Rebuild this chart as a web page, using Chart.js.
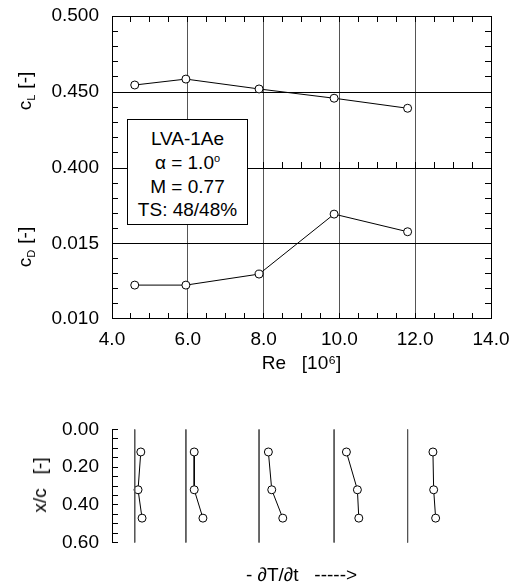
<!DOCTYPE html>
<html>
<head>
<meta charset="utf-8">
<script src="https://cdn.jsdelivr.net/npm/chart.js@4.4.1/dist/chart.umd.min.js"></script>
<style>
  body { margin: 0; background: #fff; }
  #wrap { position: relative; width: 516px; height: 587px; font-family: "Liberation Sans", Arial, sans-serif; color: #000; }
  canvas { position: absolute; left: 0; }
  .ytitle { position: absolute; font-size: 19px; white-space: nowrap; line-height: 22px; transform: translate(-50%, -50%) rotate(-90deg); z-index: 4; }
  .ytitle sub { font-size: 11px; vertical-align: -4px; line-height: 0; }
  #box { position: absolute; left: 127px; top: 119px; width: 121px; height: 106px; box-sizing: border-box; border: 1px solid #000; background: #fff;
         text-align: center; font-size: 19px; line-height: 23.8px; padding-top: 7px; z-index: 5; }
  #box sup { font-size: 11px; line-height: 0; vertical-align: 7px; }
</style>
</head>
<body>
<div id="wrap">
  <canvas id="c1" width="516" height="180" style="top:0px"></canvas>
  <canvas id="c2" width="516" height="230" style="top:150px"></canvas>
  <canvas id="c3" width="516" height="172" style="top:415px"></canvas>
  <div class="ytitle" style="left:25px; top:91px">c<sub>L</sub><span style="margin-left:6px">[-]</span></div>
  <div class="ytitle" style="left:25px; top:247px">c<sub>D</sub><span style="margin-left:6px">[-]</span></div>
  <div class="ytitle" style="left:40px; top:485px">x/c<span style="margin-left:14px">[-]</span></div>
  <div id="box">LVA-1Ae<br>&alpha; = 1.0<sup>o</sup><br>M = 0.77<br>TS: 48/48%</div>
</div>
<script>
// Reynolds number [10^6] of each run
const re = [4.6, 5.95, 7.88, 9.86, 11.8];
const cL = [0.4546, 0.4585, 0.4520, 0.4459, 0.4393];
const cD = [0.01223, 0.01223, 0.01296, 0.01694, 0.01577];

// transition sensors x/c and -dT/dt (offset from each run's baseline, Re units)
const xc = [0.12, 0.32, 0.47];
const dTdt1 = [0.16, 0.087, 0.193];
const dTdt2 = [0.219, 0.219, 0.449];
const dTdt3 = [0.246, 0.335, 0.626];
const dTdt4 = [0.325, 0.615, 0.652];
const dTdt5 = [0.668, 0.687, 0.739];
const dTdt = [dTdt1, dTdt2, dTdt3, dTdt4, dTdt5];

// tick labels
const reTicks = [4, 6, 8, 10, 12, 14];
const cLTicks = [0.400, 0.450, 0.500];
const cDTicks = [0.010, 0.015];
const xcTicks = [0.00, 0.20, 0.40, 0.60];

Chart.defaults.font.family = '"Liberation Sans", Arial, sans-serif';
Chart.defaults.font.size = 19;
Chart.defaults.color = '#000';

function steps(a, b, s) {
  const out = [];
  const n = Math.round((b - a) / s);
  for (let i = 0; i <= n; i++) out.push(+(a + i * s).toFixed(6));
  return out;
}
function has(list, v) { return list.some(t => Math.abs(t - v) < 1e-9); }
function fixTicks(vals) { return scale => { scale.ticks = vals.map(v => ({ value: v })); }; }
function noPad(s) { s.paddingTop = 0; s.paddingBottom = 0; s.paddingLeft = 0; s.paddingRight = 0; }
const clear = 'rgba(0,0,0,0)';

// small tick marks pointing into the plot area, filled as 1px rects
function inwardTicks(marks) {
  return {
    id: 'inwardTicks',
    afterDraw(chart) {
      const ctx = chart.ctx, a = chart.chartArea, len = 6;
      const L = Math.round(a.left), R = Math.round(a.right), T = Math.round(a.top), B = Math.round(a.bottom);
      ctx.save();
      ctx.fillStyle = '#000';
      marks.forEach(m => {
        const s = chart.scales[m.scale];
        m.values.forEach(v => {
          const p = Math.round(s.getPixelForValue(v) - 0.5);
          m.sides.forEach(side => {
            if (side === 'bottom') ctx.fillRect(p, B - len, 1, len);
            if (side === 'top') ctx.fillRect(p, T, 1, len);
            if (side === 'left') ctx.fillRect(L, p, len, 1);
            if (side === 'right') ctx.fillRect(R - len, p, len, 1);
          });
        });
      });
      ctx.restore();
    }
  };
}

// x axis (Re), with gridlines only at labelled interior values
function reAxis(pos, size, showLabels, gridOnArea) {
  return {
    type: 'linear', position: pos, min: 4, max: 14,
    afterBuildTicks: fixTicks(steps(4, 14, 0.5)),
    afterFit: s => { s.height = size; noPad(s); },
    ticks: { display: showLabels, autoSkip: false, maxRotation: 0, padding: 10,
             callback: v => has(reTicks, v) ? v.toFixed(1) : '' },
    grid: { drawOnChartArea: gridOnArea, drawTicks: false,
            color: c => (c.tick && has(reTicks, c.tick.value) && c.tick.value > 4 && c.tick.value < 14) ? '#555' : clear },
    border: { color: '#000', width: 1 }
  };
}
function valAxis(pos, min, max, step, labels, digits, midLine, width, showLabels, gridOnArea) {
  return {
    type: 'linear', position: pos, min: min, max: max,
    afterBuildTicks: fixTicks(steps(min, max, step)),
    afterFit: s => { s.width = width; noPad(s); },
    ticks: { display: showLabels, autoSkip: false, padding: 13,
             callback: v => has(labels, v) ? v.toFixed(digits) : '' },
    grid: { drawOnChartArea: gridOnArea, drawTicks: false,
            color: c => (c.tick && midLine !== null && Math.abs(c.tick.value - midLine) < 1e-9) ? '#000' : clear },
    border: { color: '#000', width: 1 }
  };
}
const lineStyle = {
  showLine: true, borderColor: '#000', borderWidth: 1,
  pointRadius: 4, pointBackgroundColor: '#fff', pointBorderColor: '#000', pointBorderWidth: 1
};
function opts(padding, scales) {
  return {
    responsive: false, animation: false, devicePixelRatio: 1,
    layout: { padding: padding },
    plugins: { legend: { display: false }, tooltip: { enabled: false } },
    scales: scales
  };
}

new Chart(document.getElementById('c1'), {
  type: 'scatter',
  data: { datasets: [Object.assign({ data: re.map((r, i) => ({ x: r, y: cL[i] })) }, lineStyle)] },
  options: opts(0, {
    x: reAxis('bottom', 12, false, true),
    x2: reAxis('top', 16, false, false),
    y: valAxis('left', 0.4, 0.5, 0.01, cLTicks, 3, 0.45, 112, true, true),
    y2: valAxis('right', 0.4, 0.5, 0.01, [], 3, null, 25, false, false)
  }),
  plugins: [inwardTicks([
    { scale: 'x', values: steps(4, 14, 0.5), sides: ['top', 'bottom'] },
    { scale: 'y', values: steps(0.4, 0.5, 0.01), sides: ['left', 'right'] }
  ])]
});

const c2x = reAxis('bottom', 61.3, true, true);
c2x.title = { display: true, text: 'Re   [10\u2076]', padding: { top: 0, bottom: 4.6 } };
new Chart(document.getElementById('c2'), {
  type: 'scatter',
  data: { datasets: [Object.assign({ data: re.map((r, i) => ({ x: r, y: cD[i] })) }, lineStyle)] },
  options: opts(0, {
    x: c2x,
    x2: reAxis('top', 18, false, false),
    y: valAxis('left', 0.010, 0.020, 0.001, cDTicks, 3, 0.015, 112, true, true),
    y2: valAxis('right', 0.010, 0.020, 0.001, [], 3, null, 25, false, false)
  }),
  plugins: [inwardTicks([
    { scale: 'x', values: steps(4, 14, 0.5), sides: ['bottom'] },
    { scale: 'y', values: steps(0.010, 0.020, 0.001), sides: ['left', 'right'] }
  ])]
});

// bottom panel: one baseline per run plus the sensor readings
const sets3 = [];
re.forEach((r, i) => {
  sets3.push({ data: [{ x: r, y: 0 }, { x: r, y: 0.6 }], showLine: true, borderColor: '#555', borderWidth: 1, pointRadius: 0 });
  sets3.push(Object.assign({ data: xc.map((p, k) => ({ x: r + dTdt[i][k], y: p })) }, lineStyle));
});
const xcAxis = valAxis('left', 0, 0.6, 0.05, xcTicks, 2, null, 112, true, false);
xcAxis.reverse = true;
new Chart(document.getElementById('c3'), {
  type: 'scatter',
  data: { datasets: sets3 },
  options: opts({ top: 14.3, right: 25, left: 0, bottom: 0 }, {
    x: {
      type: 'linear', position: 'bottom', min: 4, max: 14,
      afterFit: s => { s.height = 44.3; noPad(s); },
      ticks: { display: false },
      grid: { display: false },
      border: { display: false },
      title: { display: true, text: '- \u2202T/\u2202t   ----->', padding: { top: 0, bottom: 0 } }
    },
    y: xcAxis
  }),
  plugins: [inwardTicks([
    { scale: 'y', values: steps(0, 0.6, 0.05), sides: ['left'] }
  ])]
});
</script>
</body>
</html>
